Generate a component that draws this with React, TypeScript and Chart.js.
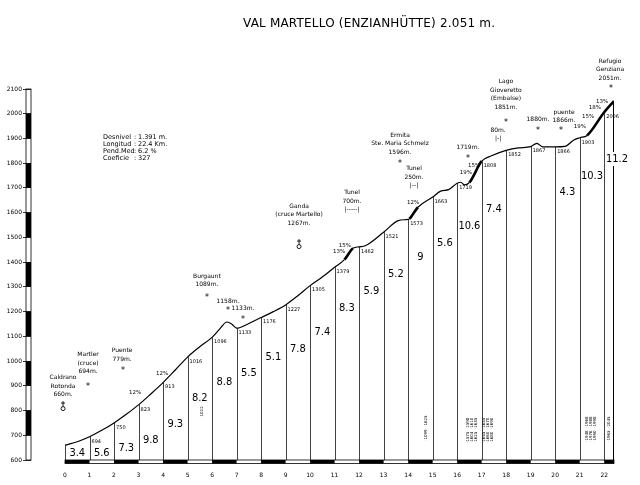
import React, { useEffect, useRef } from "react";
import { Chart, registerables } from "chart.js";

Chart.register(...registerables);

// ---- data ----
const kmMarks = [0, 1, 2, 3, 4, 5, 6, 7, 8, 9, 10, 11, 12, 13, 14, 15, 16, 17, 18, 19, 20, 21, 22];
const kmElevations = [660, 694, 750, 823, 913, 1016, 1096, 1133, 1176, 1227, 1305, 1379, 1462, 1521, 1573, 1663, 1719, 1808, 1852, 1867, 1866, 1903, 2006];
const summitKm = 22.4;
const summitElevation = 2051;
// intermediate profile points
const shapeKm = [0.5, 1.5, 2.5, 3.5, 4.5, 5.5, 6.3, 6.6, 6.8, 7.5, 8.5, 9.5, 10.5, 11.4, 11.75, 12.25, 13.6, 14.05, 14.4, 15.35, 15.65, 16.15, 16.3, 16.5, 17.4, 18.5, 19.25, 19.5, 20.4, 20.75, 21.3];
const shapeElev = [674, 720, 785, 867, 964, 1058, 1128, 1158, 1150, 1152, 1200, 1264, 1340, 1410, 1456, 1466, 1568, 1575, 1622, 1688, 1693, 1723, 1712, 1722, 1830, 1862, 1880, 1866, 1868, 1893, 1912];
// average gradient of each kilometre (index = starting km), last = final 0.4 km
const kmGrades = ["3.4", "5.6", "7.3", "9.8", "9.3", "8.2", "8.8", "5.5", "5.1", "7.8", "7.4", "8.3", "5.9", "5.2", "9", "5.6", "10.6", "7.4", null, null, "4.3", "10.3", "11.2"];
// altitude (data units) at which each gradient figure is written
const gradeLabelAlt = [628, 628, 649, 681, 746, 851, 915, 952, 1016, 1049, 1118, 1215, 1284, 1353, 1422, 1478, 1547, 1615, 0, 0, 1684, 1748, 1817];
const altTicksMin = 600;
const altTicksMax = 2100;
const xAxisMin = -1.3873;

const titleText = "VAL MARTELLO (ENZIANHÜTTE) 2.051 m.";
const statsLabels = ["Desnivel", "Longitud", "Pend.Med", "Coeficie"];
const statsValues = ["1.391 m.", "22.4 Km.", "6.2 %", "327"];

// place annotations (km, altitude in data units)
const placeNotes = [
  { km: -0.08, alt: 932, lines: ["Caldrano", "Rotonda", "660m."], mark: "fountain", markKm: -0.08, markAlt: 818 },
  { km: 0.94, alt: 1025, lines: ["Martler", "(cruce)", "694m."], mark: "star", markKm: 0.94, markAlt: 903 },
  { km: 2.33, alt: 1041, lines: ["Puente", "779m."], mark: "star", markKm: 2.37, markAlt: 968 },
  { km: 5.79, alt: 1344, lines: ["Burgaunt", "1089m."], mark: "star", markKm: 5.79, markAlt: 1263 },
  { km: 6.65, alt: 1243, lines: ["1158m."], mark: "star", markKm: 6.65, markAlt: 1207 },
  { km: 7.26, alt: 1211, lines: ["1133m."], mark: "star", markKm: 7.26, markAlt: 1174 },
  { km: 9.55, alt: 1627, lines: ["Ganda", "(cruce Martello)", "1267m."], mark: "fountain", markKm: 9.55, markAlt: 1473 },
  { km: 11.71, alt: 1680, lines: ["Tunel", "700m.", "|-----|"], mark: null, markKm: 0, markAlt: 0 },
  { km: 13.67, alt: 1914, lines: ["Ermita", "Ste. Maria Schmelz", "1596m."], mark: "star", markKm: 13.67, markAlt: 1805 },
  { km: 14.24, alt: 1777, lines: ["Tunel", "250m.", "|--|"], mark: null, markKm: 0, markAlt: 0 },
  { km: 16.44, alt: 1862, lines: ["1719m."], mark: "star", markKm: 16.44, markAlt: 1825 },
  { km: 17.99, alt: 2129, lines: ["Lago", "Gioveretto", "(Embalse)", "1851m."], mark: "star", markKm: 17.99, markAlt: 1967 },
  { km: 17.67, alt: 1934, lines: ["80m.", "|-|"], mark: null, markKm: 0, markAlt: 0 },
  { km: 19.3, alt: 1975, lines: ["1880m."], mark: "star", markKm: 19.3, markAlt: 1938 },
  { km: 20.36, alt: 2007, lines: ["puente", "1866m."], mark: "star", markKm: 20.24, markAlt: 1938 },
  { km: 22.24, alt: 2213, lines: ["Refugio", "Genziana", "2051m."], mark: "star", markKm: 22.28, markAlt: 2108 },
];

// steepest ramps
const rampNotes = [
  { km: 2.86, alt: 871, text: "12%" },
  { km: 3.96, alt: 948, text: "12%" },
  { km: 11.18, alt: 1441, text: "13%" },
  { km: 11.42, alt: 1465, text: "15%" },
  { km: 14.2, alt: 1639, text: "12%" },
  { km: 16.36, alt: 1761, text: "19%" },
  { km: 16.69, alt: 1789, text: "15%" },
  { km: 21.01, alt: 1947, text: "19%" },
  { km: 21.34, alt: 1987, text: "15%" },
  { km: 21.62, alt: 2023, text: "18%" },
  { km: 21.91, alt: 2048, text: "13%" },
];

// tiny vertical notes at the foot of some columns
const footNotes = [
  { km: 5.59, alt: 794, text: "·1022" },
  { km: 14.73, alt: 729, text: "·1099  ·1625" },
  { km: 16.46, alt: 720, text: "·1575  ·1598" },
  { km: 16.62, alt: 720, text: "·1604  ·1610" },
  { km: 16.78, alt: 720, text: "·1625  ·1635" },
  { km: 17.1, alt: 720, text: "·1645  ·1655" },
  { km: 17.27, alt: 720, text: "·1660  ·1670" },
  { km: 17.44, alt: 720, text: "·1680  ·1690" },
  { km: 21.3, alt: 725, text: "·1948  ·1968" },
  { km: 21.47, alt: 725, text: "·1976  ·1988" },
  { km: 21.64, alt: 725, text: "·1990  ·1998" },
  { km: 22.2, alt: 725, text: "·1965  ·2045" },
];

const SMALL = "6px 'DejaVu Sans', sans-serif";
const GRADE_FONT = "11px 'DejaVu Sans', sans-serif";

const decorPlugin = {
  id: "decor",
  beforeDatasetsDraw(chart: any) {
    const { ctx, scales } = chart;
    const x = scales.x;
    const y = scales.y;
    ctx.save();
    ctx.strokeStyle = "#444";
    ctx.lineWidth = 1;
    const base = y.getPixelForValue(altTicksMin);
    kmMarks.forEach((k, i) => {
      const X = Math.round(x.getPixelForValue(k)) + 0.5;
      ctx.beginPath();
      ctx.moveTo(X, base);
      ctx.lineTo(X, y.getPixelForValue(kmElevations[i]));
      ctx.stroke();
    });
    const XS = Math.round(x.getPixelForValue(summitKm)) - 0.5;
    ctx.strokeStyle = "#000";
    ctx.beginPath();
    ctx.moveTo(XS, base);
    ctx.lineTo(XS, y.getPixelForValue(summitElevation));
    ctx.stroke();
    ctx.restore();
  },
  afterDraw(chart: any) {
    const { ctx, scales, chartArea } = chart;
    const x = scales.x;
    const y = scales.y;
    const px = (v: number) => x.getPixelForValue(v);
    const py = (v: number) => y.getPixelForValue(v);
    ctx.save();
    ctx.fillStyle = "#000";

    // gradient figures
    ctx.font = GRADE_FONT;
    try { (ctx as any).fontStretch = "condensed"; } catch (e) {}
    ctx.textAlign = "center";
    ctx.textBaseline = "middle";
    kmGrades.forEach((g, i) => {
      if (!g) return;
      const start = kmMarks[i];
      const end = i + 1 < kmMarks.length ? kmMarks[i + 1] : summitKm;
      let X = (px(start) + px(end)) / 2;
      const Y = py(gradeLabelAlt[i]);
      if (end === summitKm) {
        X = px(summitKm) + 3;
        const w = ctx.measureText(g).width;
        ctx.fillStyle = "#fff";
        ctx.fillRect(X - w / 2 - 1, Y - 7, w + 2, 14);
        ctx.fillStyle = "#000";
      }
      ctx.fillText(g, X, Y);
    });
    try { (ctx as any).fontStretch = "normal"; } catch (e) {}

    // elevation at each km
    ctx.font = "5px 'DejaVu Sans', sans-serif";
    ctx.textAlign = "left";
    ctx.textBaseline = "top";
    kmMarks.forEach((k, i) => {
      if (i === 0) return;
      ctx.fillText(String(kmElevations[i]), px(k) + 2, py(kmElevations[i]) + 2);
    });

    // ramp notes
    ctx.font = "5.5px 'DejaVu Sans', sans-serif";
    ctx.textAlign = "center";
    ctx.textBaseline = "middle";
    rampNotes.forEach((r) => ctx.fillText(r.text, px(r.km), py(r.alt)));

    // place notes
    placeNotes.forEach((p) => {
      ctx.font = SMALL;
      ctx.textAlign = "center";
      ctx.textBaseline = "middle";
      const X = px(p.km);
      const Y = py(p.alt);
      p.lines.forEach((l, j) => ctx.fillText(l, X, Y + j * 8.5));
      if (p.mark === "star") {
        ctx.font = "8px 'DejaVu Sans', sans-serif";
        ctx.fillText("*", px(p.markKm), py(p.markAlt) + 1.5);
      } else if (p.mark === "fountain") {
        const MX = px(p.markKm);
        const MY = py(p.markAlt);
        ctx.strokeStyle = "#000";
        ctx.lineWidth = 0.9;
        ctx.beginPath();
        ctx.moveTo(MX, MY - 5);
        ctx.lineTo(MX, MY + 0.5);
        ctx.moveTo(MX - 2, MY - 3);
        ctx.lineTo(MX + 2, MY - 3);
        ctx.stroke();
        ctx.beginPath();
        ctx.arc(MX, MY + 2.5, 2, 0, Math.PI * 2);
        ctx.stroke();
      }
    });

    // foot notes (rotated)
    ctx.font = "4px 'DejaVu Sans', sans-serif";
    ctx.textAlign = "center";
    ctx.textBaseline = "middle";
    footNotes.forEach((f) => {
      ctx.save();
      ctx.translate(px(f.km), py(f.alt));
      ctx.rotate(-Math.PI / 2);
      ctx.fillText(f.text, 0, 0);
      ctx.restore();
    });

    // x axis bar (alternating km)
    const bottom = chartArea.bottom;
    ctx.lineWidth = 0.8;
    ctx.strokeStyle = "#000";
    kmMarks.forEach((k, i) => {
      if (i % 2 !== 0) return;
      const end = i + 1 < kmMarks.length ? kmMarks[i + 1] : summitKm;
      ctx.fillRect(px(k), bottom, px(end) - px(k), 3.5);
    });
    ctx.strokeRect(px(0), bottom, px(summitKm) - px(0), 3.5);

    // y axis bar (alternating 100 m)
    const left = chartArea.left;
    for (let e = altTicksMin, n = 0; e < altTicksMax; e += 100, n++) {
      if (n % 2 === 1) ctx.fillRect(left - 5, py(e + 100), 5, py(e) - py(e + 100));
    }
    ctx.strokeRect(left - 5, py(altTicksMax), 5, py(altTicksMin) - py(altTicksMax));

    // stats block
    ctx.font = "6.5px 'DejaVu Sans', sans-serif";
    ctx.textAlign = "left";
    ctx.textBaseline = "middle";
    statsLabels.forEach((l, i) => {
      const Y = 137 + i * 7;
      ctx.fillText(l, 103, Y);
      ctx.fillText(":", 134, Y);
      ctx.fillText(statsValues[i], 138, Y);
    });

    // title
    ctx.font = "12px 'DejaVu Sans', sans-serif";
    ctx.textAlign = "left";
    ctx.textBaseline = "middle";
    const target = 252;
    (ctx as any).letterSpacing = "0px";
    const baseW = ctx.measureText(titleText).width;
    const sp = Math.max(0, (target - baseW) / (titleText.length - 1));
    (ctx as any).letterSpacing = sp + "px";
    ctx.fillText(titleText, 243, 24, target + sp);
    (ctx as any).letterSpacing = "0px";

    ctx.restore();
  },
};

export default function App() {
  const ref = useRef<HTMLCanvasElement | null>(null);
  useEffect(() => {
    if (!ref.current) return;
    const pts = kmMarks.map((k, i) => ({ x: k, y: kmElevations[i] }))
      .concat(shapeKm.map((k, i) => ({ x: k, y: shapeElev[i] })))
      .concat([{ x: summitKm, y: summitElevation }])
      .sort((a, b) => a.x - b.x);
    const chart = new Chart(ref.current, {
      type: "line",
      data: {
        datasets: [
          {
            data: pts,
            borderColor: "#000",
            borderWidth: 1.2,
            pointRadius: 0,
            fill: false,
            cubicInterpolationMode: "monotone",
            segment: {
              borderWidth: (c: any) => {
                const g = (c.p1.parsed.y - c.p0.parsed.y) / ((c.p1.parsed.x - c.p0.parsed.x) * 1000);
                return g > 0.11 ? 2.6 : 1.2;
              },
            },
          } as any,
        ],
      },
      options: {
        animation: false,
        responsive: false,
        devicePixelRatio: 1,
        layout: { padding: { top: 89, right: 26, left: 0, bottom: 0 } },
        plugins: { legend: { display: false }, tooltip: { enabled: false }, title: { display: false } },
        scales: {
          x: {
            type: "linear",
            min: xAxisMin,
            max: summitKm,
            afterFit: (s: any) => { s.height = 25; },
            afterBuildTicks: (s: any) => { s.ticks = kmMarks.map((v) => ({ value: v })); },
            grid: { display: false },
            border: { display: false },
            ticks: {
              autoSkip: false,
              maxRotation: 0,
              padding: 4,
              color: "#000",
              font: { size: 6, family: "'DejaVu Sans', sans-serif" },
              callback: (v: any) => String(v),
            },
          },
          y: {
            type: "linear",
            min: altTicksMin,
            max: altTicksMax,
            afterFit: (s: any) => { s.width = 31; },
            grid: { display: true, drawOnChartArea: false, drawTicks: true, tickLength: 8, color: "#000", lineWidth: 0.8 },
            border: { display: false },
            ticks: {
              stepSize: 100,
              padding: 1,
              color: "#000",
              font: { size: 6, family: "'DejaVu Sans', sans-serif" },
              callback: (v: any) => String(v),
            },
          },
        },
      },
      plugins: [decorPlugin],
    });
    return () => chart.destroy();
  }, []);
  return (
    <div style={{ position: "fixed", left: 0, top: 0, width: 640, height: 485, background: "#fff" }}>
      <canvas ref={ref} width={640} height={485} style={{ width: 640, height: 485, display: "block" }} />
    </div>
  );
}
